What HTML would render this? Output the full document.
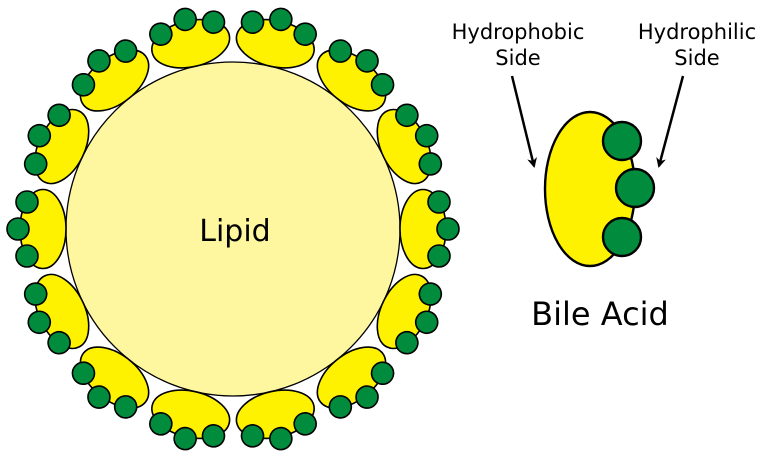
<!DOCTYPE html>
<html><head><style>html,body{margin:0;padding:0;background:#fff}svg{display:block}</style></head>
<body>
<svg width="768" height="455" viewBox="0 0 768 455" xmlns="http://www.w3.org/2000/svg">
<defs>
<g id="ba" stroke="#000" stroke-width="2.4">
<ellipse cx="0" cy="0" rx="45" ry="77" fill="#fff200"/>
<circle cx="32" cy="-48" r="19" fill="#008c3c"/>
<circle cx="45" cy="-1" r="19" fill="#008c3c"/>
<circle cx="32" cy="48" r="19" fill="#008c3c"/>
</g>
<g id="sb" stroke="#000" stroke-width="1.6">
<ellipse cx="0" cy="0" rx="23" ry="39.5" fill="#fff200"/>
<circle cx="16" cy="-27" r="11" fill="#008c3c"/>
<circle cx="25" cy="0" r="11" fill="#008c3c"/>
<circle cx="16" cy="27" r="11" fill="#008c3c"/>
</g>
<marker id="ah" markerWidth="10" markerHeight="10" refX="8" refY="5" orient="auto" markerUnits="userSpaceOnUse">
<path d="M0,0 L10,5 L0,10 L3,5 Z" fill="#000"/>
</marker>
</defs>
<circle cx="233" cy="229" r="167" fill="#fff7a0" stroke="#000" stroke-width="1.3"/>
<g>
<use href="#sb" transform="translate(233 229) rotate(180) translate(190 0)"/>
<use href="#sb" transform="translate(233 229) rotate(205.714) translate(190 0)"/>
<use href="#sb" transform="translate(233 229) rotate(231.429) translate(190 0)"/>
<use href="#sb" transform="translate(233 229) rotate(257.143) translate(190 0)"/>
<use href="#sb" transform="translate(233 229) rotate(282.857) translate(190 0)"/>
<use href="#sb" transform="translate(233 229) rotate(308.571) translate(190 0)"/>
<use href="#sb" transform="translate(233 229) rotate(334.286) translate(190 0)"/>
<use href="#sb" transform="translate(233 229) rotate(0) translate(190 0)"/>
<use href="#sb" transform="translate(233 229) rotate(25.714) translate(190 0)"/>
<use href="#sb" transform="translate(233 229) rotate(51.429) translate(190 0)"/>
<use href="#sb" transform="translate(233 229) rotate(77.143) translate(190 0)"/>
<use href="#sb" transform="translate(233 229) rotate(102.857) translate(190 0)"/>
<use href="#sb" transform="translate(233 229) rotate(128.571) translate(190 0)"/>
<use href="#sb" transform="translate(233 229) rotate(154.286) translate(190 0)"/>
</g>
<text x="235" y="241" font-family="DejaVu Sans, sans-serif" font-size="30" text-anchor="middle">Lipid</text>
<use href="#ba" transform="translate(590 189)"/>
<line x1="512" y1="76" x2="534" y2="166" stroke="#000" stroke-width="2.5" marker-end="url(#ah)"/>
<line x1="683" y1="76" x2="659" y2="166" stroke="#000" stroke-width="2.5" marker-end="url(#ah)"/>
<g font-family="DejaVu Sans, sans-serif" font-size="21" text-anchor="middle">
<text x="518" y="39">Hydrophobic</text>
<text x="518" y="65">Side</text>
<text x="697" y="39">Hydrophilic</text>
<text x="697" y="65">Side</text>
</g>
<text x="600" y="325" font-family="DejaVu Sans, sans-serif" font-size="32" text-anchor="middle">Bile Acid</text>
</svg>
</body></html>
